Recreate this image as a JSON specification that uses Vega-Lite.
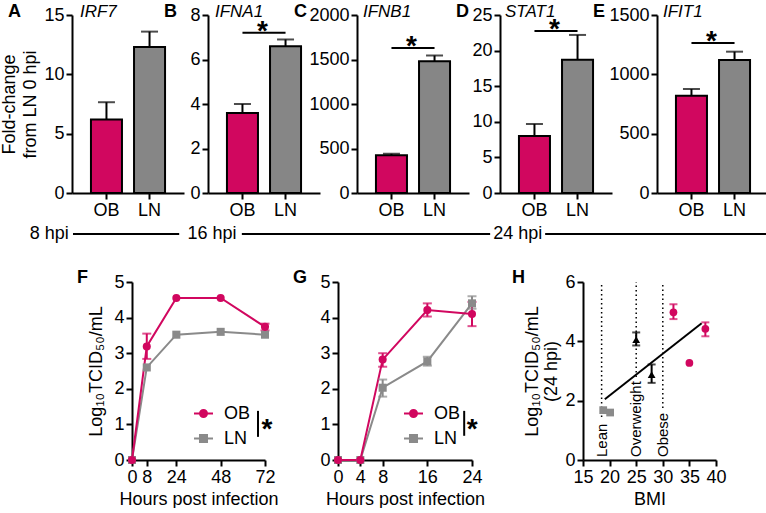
{
"$schema": "https://vega.github.io/schema/vega-lite/v6.json",
"background": "white",
"padding": {"left": 0, "top": 3, "right": 0, "bottom": 0},
"config": {
  "view": {"stroke": null},
  "font": "Liberation Sans",
  "axis": {"domainColor": "black", "domainWidth": 2, "tickColor": "black", "tickWidth": 2, "tickSize": 6, "labelColor": "black", "labelFontSize": 18, "labelFont": "Liberation Sans", "titleFont": "Liberation Sans", "titleFontSize": 18, "titleFontWeight": "normal", "titleColor": "black", "grid": false, "labelPadding": 2, "labelFlush": false, "labelOverlap": false},
  "text": {"font": "Liberation Sans", "color": "black"},
  "legend": {"labelFont": "Liberation Sans", "labelFontSize": 18, "labelColor": "black", "padding": 0}
},
"datasets": {
  "bars": [
    {"panel": "A", "gene": "IRF7", "group": "OB", "mean": 6.2, "upper": 7.65},
    {"panel": "A", "gene": "IRF7", "group": "LN", "mean": 12.3, "upper": 13.6},
    {"panel": "B", "gene": "IFNA1", "group": "OB", "mean": 3.6, "upper": 4.0},
    {"panel": "B", "gene": "IFNA1", "group": "LN", "mean": 6.6, "upper": 6.9},
    {"panel": "C", "gene": "IFNB1", "group": "OB", "mean": 425, "upper": 440},
    {"panel": "C", "gene": "IFNB1", "group": "LN", "mean": 1480, "upper": 1545},
    {"panel": "D", "gene": "STAT1", "group": "OB", "mean": 8.0, "upper": 9.7},
    {"panel": "D", "gene": "STAT1", "group": "LN", "mean": 18.7, "upper": 22.2},
    {"panel": "E", "gene": "IFIT1", "group": "OB", "mean": 820, "upper": 876},
    {"panel": "E", "gene": "IFIT1", "group": "LN", "mean": 1121, "upper": 1191}
  ],
  "sig": [
    {"panel": "B", "y": 7.2},
    {"panel": "C", "y": 1630},
    {"panel": "D", "y": 22.75},
    {"panel": "E", "y": 1265}
  ],
  "growth": [
    {"panel": "F", "group": "LN", "hours": 0, "titer": 0},
    {"panel": "F", "group": "LN", "hours": 8, "titer": 2.6},
    {"panel": "F", "group": "LN", "hours": 24, "titer": 3.52},
    {"panel": "F", "group": "LN", "hours": 48, "titer": 3.6},
    {"panel": "F", "group": "LN", "hours": 72, "titer": 3.52},
    {"panel": "F", "group": "OB", "hours": 0, "titer": 0},
    {"panel": "F", "group": "OB", "hours": 8, "titer": 3.19, "lo": 2.84, "hi": 3.55},
    {"panel": "F", "group": "OB", "hours": 24, "titer": 4.55},
    {"panel": "F", "group": "OB", "hours": 48, "titer": 4.55},
    {"panel": "F", "group": "OB", "hours": 72, "titer": 3.74, "lo": 3.64, "hi": 3.83},
    {"panel": "G", "group": "LN", "hours": 0, "titer": 0},
    {"panel": "G", "group": "LN", "hours": 4, "titer": 0},
    {"panel": "G", "group": "LN", "hours": 8, "titer": 2.03, "lo": 1.78, "hi": 2.26},
    {"panel": "G", "group": "LN", "hours": 16, "titer": 2.77, "lo": 2.65, "hi": 2.9},
    {"panel": "G", "group": "LN", "hours": 24, "titer": 4.4, "lo": 4.25, "hi": 4.6},
    {"panel": "G", "group": "OB", "hours": 0, "titer": 0},
    {"panel": "G", "group": "OB", "hours": 4, "titer": 0},
    {"panel": "G", "group": "OB", "hours": 8, "titer": 2.82, "lo": 2.62, "hi": 3.0},
    {"panel": "G", "group": "OB", "hours": 16, "titer": 4.21, "lo": 4.03, "hi": 4.4},
    {"panel": "G", "group": "OB", "hours": 24, "titer": 4.1, "lo": 3.76, "hi": 4.44}
  ],
  "tcsig": [
    {"panel": "F", "hours": 68.2, "lo": 0.65, "hi": 1.38, "mid": 1.0},
    {"panel": "G", "hours": 22.6, "lo": 0.68, "hi": 1.38, "mid": 1.02}
  ],
  "bmiCuts": [
    {"category": "Lean", "bmi": 18.5, "lineStart": 1.45},
    {"category": "Overweight", "bmi": 25, "lineStart": 2.8},
    {"category": "Obese", "bmi": 30, "lineStart": 1.75}
  ],
  "bmiPoints": [
    {"category": "Lean", "bmi": 18.8, "titer": 1.68},
    {"category": "Lean", "bmi": 20.1, "titer": 1.6},
    {"category": "Overweight", "bmi": 25, "titer": 4.06, "lo": 3.86, "hi": 4.3},
    {"category": "Overweight", "bmi": 27.9, "titer": 2.88, "lo": 2.6, "hi": 3.22},
    {"category": "Obese", "bmi": 32, "titer": 4.98, "lo": 4.75, "hi": 5.25},
    {"category": "Obese", "bmi": 35, "titer": 3.27},
    {"category": "Obese", "bmi": 38, "titer": 4.42, "lo": 4.17, "hi": 4.64}
  ],
  "bmiFit": [
    {"bmi": 19.1, "titer": 2.05},
    {"bmi": 37.3, "titer": 4.61}
  ],
  "timeline": [
    {"label": "8 hpi", "pos": 5.8, "from": 8.9, "to": 22.8},
    {"label": "16 hpi", "pos": 27.1, "from": 31.0, "to": 63.5},
    {"label": "24 hpi", "pos": 67.1, "from": 70.7, "to": 100}
  ]
},
"spacing": 0,
"resolve": {"scale": {"color": "independent", "shape": "independent"}, "legend": {"color": "independent", "shape": "independent"}},
"vconcat": [
  {
    "hconcat": [
      {"width": 67, "height": 178, "data": {"values": []}, "mark": "point"},
      {
        "width": 112, "height": 178,
        "data": {"name": "bars"},
        "transform": [{"filter": "datum.panel === 'A'"}],
        "layer": [
          {"mark": {"type": "bar", "stroke": "black", "strokeWidth": 2},
           "encoding": {
             "x": {"field": "group", "type": "nominal", "sort": ["OB", "LN"], "scale": {"paddingInner": 0.28, "paddingOuter": 0.44}, "axis": {"title": null, "labelAngle": 0}},
             "y": {"field": "mean", "type": "quantitative", "scale": {"domain": [0, 15], "nice": false}, "axis": {"values": [0, 5, 10, 15], "title": ["Fold-change", "from LN 0 hpi"], "titleLineHeight": 21, "titlePadding": 4, "labelOverlap": false}},
             "color": {"field": "group", "type": "nominal", "scale": {"domain": ["OB", "LN"], "range": ["#D1075F", "#868686"]}, "legend": null}}},
          {"mark": {"type": "rule", "strokeWidth": 2, "color": "black"},
           "encoding": {"x": {"field": "group", "type": "nominal", "sort": ["OB", "LN"]}, "y": {"field": "mean", "type": "quantitative", "axis": {"values": [0, 5, 10, 15], "title": ["Fold-change", "from LN 0 hpi"], "titleLineHeight": 21, "titlePadding": 4, "labelOverlap": false}}, "y2": {"field": "upper"}}},
          {"mark": {"type": "tick", "thickness": 2, "size": 17, "color": "black"},
           "encoding": {"x": {"field": "group", "type": "nominal", "sort": ["OB", "LN"]}, "y": {"field": "upper", "type": "quantitative", "axis": {"values": [0, 5, 10, 15], "title": ["Fold-change", "from LN 0 hpi"], "titleLineHeight": 21, "titlePadding": 4, "labelOverlap": false}}}},
          {"transform": [{"filter": "datum.group === 'OB'"}],
           "mark": {"type": "text", "align": "left", "baseline": "middle", "fontStyle": "italic", "fontSize": 17, "dx": -11, "dy": -3},
           "encoding": {"x": {"field": "group", "type": "nominal", "sort": ["OB", "LN"], "bandPosition": 0}, "y": {"datum": 15, "type": "quantitative", "axis": {"values": [0, 5, 10, 15], "title": ["Fold-change", "from LN 0 hpi"], "titleLineHeight": 21, "titlePadding": 4, "labelOverlap": false}}, "text": {"field": "gene"}}},
          {"transform": [{"filter": "datum.group === 'OB'"}],
           "mark": {"type": "text", "align": "left", "baseline": "middle", "fontWeight": "bold", "fontSize": 18, "dx": -83, "dy": -3},
           "encoding": {"x": {"field": "group", "type": "nominal", "sort": ["OB", "LN"], "bandPosition": 0}, "y": {"datum": 15, "type": "quantitative", "axis": {"values": [0, 5, 10, 15], "title": ["Fold-change", "from LN 0 hpi"], "titleLineHeight": 21, "titlePadding": 4, "labelOverlap": false}}, "text": {"field": "panel"}}}
        ]
      },
      {"width": 24, "height": 178, "data": {"values": []}, "mark": "point"},
      {
        "width": 112, "height": 178,
        "data": {"name": "bars"},
        "transform": [{"filter": "datum.panel === 'B'"}],
        "layer": [
          {"mark": {"type": "bar", "stroke": "black", "strokeWidth": 2},
           "encoding": {
             "x": {"field": "group", "type": "nominal", "sort": ["OB", "LN"], "scale": {"paddingInner": 0.28, "paddingOuter": 0.44}, "axis": {"title": null, "labelAngle": 0}},
             "y": {"field": "mean", "type": "quantitative", "scale": {"domain": [0, 8], "nice": false}, "axis": {"values": [0, 2, 4, 6, 8], "title": null, "labelOverlap": false}},
             "color": {"field": "group", "type": "nominal", "scale": {"domain": ["OB", "LN"], "range": ["#D1075F", "#868686"]}, "legend": null}}},
          {"mark": {"type": "rule", "strokeWidth": 2, "color": "black"},
           "encoding": {"x": {"field": "group", "type": "nominal", "sort": ["OB", "LN"]}, "y": {"field": "mean", "type": "quantitative", "axis": {"values": [0, 2, 4, 6, 8], "title": null, "labelOverlap": false}}, "y2": {"field": "upper"}}},
          {"mark": {"type": "tick", "thickness": 2, "size": 17, "color": "black"},
           "encoding": {"x": {"field": "group", "type": "nominal", "sort": ["OB", "LN"]}, "y": {"field": "upper", "type": "quantitative", "axis": {"values": [0, 2, 4, 6, 8], "title": null, "labelOverlap": false}}}},
          {"transform": [{"filter": "datum.group === 'OB'"}],
           "mark": {"type": "text", "align": "left", "baseline": "middle", "fontStyle": "italic", "fontSize": 17, "dx": -12, "dy": -3},
           "encoding": {"x": {"field": "group", "type": "nominal", "sort": ["OB", "LN"], "bandPosition": 0}, "y": {"datum": 8, "type": "quantitative", "axis": {"values": [0, 2, 4, 6, 8], "title": null, "labelOverlap": false}}, "text": {"field": "gene"}}},
          {"transform": [{"filter": "datum.group === 'OB'"}],
           "mark": {"type": "text", "align": "left", "baseline": "middle", "fontWeight": "bold", "fontSize": 18, "dx": -63, "dy": -3},
           "encoding": {"x": {"field": "group", "type": "nominal", "sort": ["OB", "LN"], "bandPosition": 0}, "y": {"datum": 8, "type": "quantitative", "axis": {"values": [0, 2, 4, 6, 8], "title": null, "labelOverlap": false}}, "text": {"field": "panel"}}},
          {"data": {"name": "sig"}, "transform": [{"filter": "datum.panel === 'B'"}],
           "mark": {"type": "rule", "strokeWidth": 2, "color": "black"},
           "encoding": {"x": {"datum": "OB"}, "x2": {"datum": "LN"}, "y": {"field": "y", "type": "quantitative", "axis": {"values": [0, 2, 4, 6, 8], "title": null, "labelOverlap": false}}}},
          {"data": {"name": "sig"}, "transform": [{"filter": "datum.panel === 'B'"}],
           "mark": {"type": "text", "text": "*", "fontSize": 28, "fontWeight": "bold", "align": "center", "baseline": "alphabetic", "dx": 20, "dy": 7},
           "encoding": {"x": {"datum": "OB"}, "y": {"field": "y", "type": "quantitative", "axis": {"values": [0, 2, 4, 6, 8], "title": null, "labelOverlap": false}}}}
        ]
      },
      {"width": 37, "height": 178, "data": {"values": []}, "mark": "point"},
      {
        "width": 112, "height": 178,
        "data": {"name": "bars"},
        "transform": [{"filter": "datum.panel === 'C'"}],
        "layer": [
          {"mark": {"type": "bar", "stroke": "black", "strokeWidth": 2},
           "encoding": {
             "x": {"field": "group", "type": "nominal", "sort": ["OB", "LN"], "scale": {"paddingInner": 0.28, "paddingOuter": 0.44}, "axis": {"title": null, "labelAngle": 0}},
             "y": {"field": "mean", "type": "quantitative", "scale": {"domain": [0, 2000], "nice": false}, "axis": {"values": [0, 500, 1000, 1500, 2000], "format": "d", "title": null, "labelOverlap": false}},
             "color": {"field": "group", "type": "nominal", "scale": {"domain": ["OB", "LN"], "range": ["#D1075F", "#868686"]}, "legend": null}}},
          {"mark": {"type": "rule", "strokeWidth": 2, "color": "black"},
           "encoding": {"x": {"field": "group", "type": "nominal", "sort": ["OB", "LN"]}, "y": {"field": "mean", "type": "quantitative", "axis": {"values": [0, 500, 1000, 1500, 2000], "format": "d", "title": null, "labelOverlap": false}}, "y2": {"field": "upper"}}},
          {"mark": {"type": "tick", "thickness": 2, "size": 17, "color": "black"},
           "encoding": {"x": {"field": "group", "type": "nominal", "sort": ["OB", "LN"]}, "y": {"field": "upper", "type": "quantitative", "axis": {"values": [0, 500, 1000, 1500, 2000], "format": "d", "title": null, "labelOverlap": false}}}},
          {"transform": [{"filter": "datum.group === 'OB'"}],
           "mark": {"type": "text", "align": "left", "baseline": "middle", "fontStyle": "italic", "fontSize": 17, "dx": -13, "dy": -3},
           "encoding": {"x": {"field": "group", "type": "nominal", "sort": ["OB", "LN"], "bandPosition": 0}, "y": {"datum": 2000, "type": "quantitative", "axis": {"values": [0, 500, 1000, 1500, 2000], "format": "d", "title": null, "labelOverlap": false}}, "text": {"field": "gene"}}},
          {"transform": [{"filter": "datum.group === 'OB'"}],
           "mark": {"type": "text", "align": "left", "baseline": "middle", "fontWeight": "bold", "fontSize": 18, "dx": -82, "dy": -3},
           "encoding": {"x": {"field": "group", "type": "nominal", "sort": ["OB", "LN"], "bandPosition": 0}, "y": {"datum": 2000, "type": "quantitative", "axis": {"values": [0, 500, 1000, 1500, 2000], "format": "d", "title": null, "labelOverlap": false}}, "text": {"field": "panel"}}},
          {"data": {"name": "sig"}, "transform": [{"filter": "datum.panel === 'C'"}],
           "mark": {"type": "rule", "strokeWidth": 2, "color": "black"},
           "encoding": {"x": {"datum": "OB"}, "x2": {"datum": "LN"}, "y": {"field": "y", "type": "quantitative", "axis": {"values": [0, 500, 1000, 1500, 2000], "format": "d", "title": null, "labelOverlap": false}}}},
          {"data": {"name": "sig"}, "transform": [{"filter": "datum.panel === 'C'"}],
           "mark": {"type": "text", "text": "*", "fontSize": 28, "fontWeight": "bold", "align": "center", "baseline": "alphabetic", "dx": 20, "dy": 7},
           "encoding": {"x": {"datum": "OB"}, "y": {"field": "y", "type": "quantitative", "axis": {"values": [0, 500, 1000, 1500, 2000], "format": "d", "title": null, "labelOverlap": false}}}}
        ]
      },
      {"width": 31, "height": 178, "data": {"values": []}, "mark": "point"},
      {
        "width": 112, "height": 178,
        "data": {"name": "bars"},
        "transform": [{"filter": "datum.panel === 'D'"}],
        "layer": [
          {"mark": {"type": "bar", "stroke": "black", "strokeWidth": 2},
           "encoding": {
             "x": {"field": "group", "type": "nominal", "sort": ["OB", "LN"], "scale": {"paddingInner": 0.28, "paddingOuter": 0.44}, "axis": {"title": null, "labelAngle": 0}},
             "y": {"field": "mean", "type": "quantitative", "scale": {"domain": [0, 25], "nice": false}, "axis": {"values": [0, 5, 10, 15, 20, 25], "title": null, "labelOverlap": false}},
             "color": {"field": "group", "type": "nominal", "scale": {"domain": ["OB", "LN"], "range": ["#D1075F", "#868686"]}, "legend": null}}},
          {"mark": {"type": "rule", "strokeWidth": 2, "color": "black"},
           "encoding": {"x": {"field": "group", "type": "nominal", "sort": ["OB", "LN"]}, "y": {"field": "mean", "type": "quantitative", "axis": {"values": [0, 5, 10, 15, 20, 25], "title": null, "labelOverlap": false}}, "y2": {"field": "upper"}}},
          {"mark": {"type": "tick", "thickness": 2, "size": 17, "color": "black"},
           "encoding": {"x": {"field": "group", "type": "nominal", "sort": ["OB", "LN"]}, "y": {"field": "upper", "type": "quantitative", "axis": {"values": [0, 5, 10, 15, 20, 25], "title": null, "labelOverlap": false}}}},
          {"transform": [{"filter": "datum.group === 'OB'"}],
           "mark": {"type": "text", "align": "left", "baseline": "middle", "fontStyle": "italic", "fontSize": 17, "dx": -14, "dy": -3},
           "encoding": {"x": {"field": "group", "type": "nominal", "sort": ["OB", "LN"], "bandPosition": 0}, "y": {"datum": 25, "type": "quantitative", "axis": {"values": [0, 5, 10, 15, 20, 25], "title": null, "labelOverlap": false}}, "text": {"field": "gene"}}},
          {"transform": [{"filter": "datum.group === 'OB'"}],
           "mark": {"type": "text", "align": "left", "baseline": "middle", "fontWeight": "bold", "fontSize": 18, "dx": -63, "dy": -3},
           "encoding": {"x": {"field": "group", "type": "nominal", "sort": ["OB", "LN"], "bandPosition": 0}, "y": {"datum": 25, "type": "quantitative", "axis": {"values": [0, 5, 10, 15, 20, 25], "title": null, "labelOverlap": false}}, "text": {"field": "panel"}}},
          {"data": {"name": "sig"}, "transform": [{"filter": "datum.panel === 'D'"}],
           "mark": {"type": "rule", "strokeWidth": 2, "color": "black"},
           "encoding": {"x": {"datum": "OB"}, "x2": {"datum": "LN"}, "y": {"field": "y", "type": "quantitative", "axis": {"values": [0, 5, 10, 15, 20, 25], "title": null, "labelOverlap": false}}}},
          {"data": {"name": "sig"}, "transform": [{"filter": "datum.panel === 'D'"}],
           "mark": {"type": "text", "text": "*", "fontSize": 28, "fontWeight": "bold", "align": "center", "baseline": "alphabetic", "dx": 20, "dy": 7},
           "encoding": {"x": {"datum": "OB"}, "y": {"field": "y", "type": "quantitative", "axis": {"values": [0, 5, 10, 15, 20, 25], "title": null, "labelOverlap": false}}}}
        ]
      },
      {"width": 45, "height": 178, "data": {"values": []}, "mark": "point"},
      {
        "width": 112, "height": 178,
        "data": {"name": "bars"},
        "transform": [{"filter": "datum.panel === 'E'"}],
        "layer": [
          {"mark": {"type": "bar", "stroke": "black", "strokeWidth": 2},
           "encoding": {
             "x": {"field": "group", "type": "nominal", "sort": ["OB", "LN"], "scale": {"paddingInner": 0.28, "paddingOuter": 0.44}, "axis": {"title": null, "labelAngle": 0}},
             "y": {"field": "mean", "type": "quantitative", "scale": {"domain": [0, 1500], "nice": false}, "axis": {"values": [0, 500, 1000, 1500], "format": "d", "title": null, "labelOverlap": false}},
             "color": {"field": "group", "type": "nominal", "scale": {"domain": ["OB", "LN"], "range": ["#D1075F", "#868686"]}, "legend": null}}},
          {"mark": {"type": "rule", "strokeWidth": 2, "color": "black"},
           "encoding": {"x": {"field": "group", "type": "nominal", "sort": ["OB", "LN"]}, "y": {"field": "mean", "type": "quantitative", "axis": {"values": [0, 500, 1000, 1500], "format": "d", "title": null, "labelOverlap": false}}, "y2": {"field": "upper"}}},
          {"mark": {"type": "tick", "thickness": 2, "size": 17, "color": "black"},
           "encoding": {"x": {"field": "group", "type": "nominal", "sort": ["OB", "LN"]}, "y": {"field": "upper", "type": "quantitative", "axis": {"values": [0, 500, 1000, 1500], "format": "d", "title": null, "labelOverlap": false}}}},
          {"transform": [{"filter": "datum.group === 'OB'"}],
           "mark": {"type": "text", "align": "left", "baseline": "middle", "fontStyle": "italic", "fontSize": 17, "dx": -13, "dy": -3},
           "encoding": {"x": {"field": "group", "type": "nominal", "sort": ["OB", "LN"], "bandPosition": 0}, "y": {"datum": 1500, "type": "quantitative", "axis": {"values": [0, 500, 1000, 1500], "format": "d", "title": null, "labelOverlap": false}}, "text": {"field": "gene"}}},
          {"transform": [{"filter": "datum.group === 'OB'"}],
           "mark": {"type": "text", "align": "left", "baseline": "middle", "fontWeight": "bold", "fontSize": 18, "dx": -83, "dy": -3},
           "encoding": {"x": {"field": "group", "type": "nominal", "sort": ["OB", "LN"], "bandPosition": 0}, "y": {"datum": 1500, "type": "quantitative", "axis": {"values": [0, 500, 1000, 1500], "format": "d", "title": null, "labelOverlap": false}}, "text": {"field": "panel"}}},
          {"data": {"name": "sig"}, "transform": [{"filter": "datum.panel === 'E'"}],
           "mark": {"type": "rule", "strokeWidth": 2, "color": "black"},
           "encoding": {"x": {"datum": "OB"}, "x2": {"datum": "LN"}, "y": {"field": "y", "type": "quantitative", "axis": {"values": [0, 500, 1000, 1500], "format": "d", "title": null, "labelOverlap": false}}}},
          {"data": {"name": "sig"}, "transform": [{"filter": "datum.panel === 'E'"}],
           "mark": {"type": "text", "text": "*", "fontSize": 28, "fontWeight": "bold", "align": "center", "baseline": "alphabetic", "dx": 20, "dy": 7},
           "encoding": {"x": {"datum": "OB"}, "y": {"field": "y", "type": "quantitative", "axis": {"values": [0, 500, 1000, 1500], "format": "d", "title": null, "labelOverlap": false}}}}
        ]
      }
    ],
    "spacing": 0,
    "bounds": "flush",
    "resolve": {"scale": {"color": "independent", "shape": "independent"}, "legend": {"color": "independent", "shape": "independent"}}
  },
  {
    "width": 764, "height": 30,
    "data": {"name": "timeline"},
    "layer": [
      {"mark": {"type": "rule", "strokeWidth": 2, "color": "black"},
       "encoding": {"x": {"field": "from", "type": "quantitative", "scale": {"domain": [0, 100], "nice": false}, "axis": null}, "x2": {"field": "to"}}},
      {"mark": {"type": "text", "fontSize": 18, "align": "center", "baseline": "middle"},
       "encoding": {"x": {"field": "pos", "type": "quantitative", "axis": null}, "text": {"field": "label"}}}
    ]
  },
  {"width": 10, "height": 20, "data": {"values": []}, "mark": "point"},
  {
    "hconcat": [
      {"width": 127, "height": 178, "data": {"values": []}, "mark": "point"},
      {
        "width": 133, "height": 178,
        "data": {"name": "growth"},
        "transform": [{"filter": "datum.panel === 'F'"}],
        "layer": [
          {"mark": {"type": "line", "strokeWidth": 2},
           "encoding": {
             "x": {"field": "hours", "type": "quantitative", "scale": {"domain": [0, 72], "nice": false}, "axis": {"values": [0, 8, 24, 48, 72], "title": "Hours post infection", "labelOverlap": false}},
             "y": {"field": "titer", "type": "quantitative", "scale": {"domain": [0, 5], "nice": false}, "axis": {"values": [0, 1, 2, 3, 4, 5], "title": "Log₁₀TCID₅₀/mL", "titlePadding": 8, "labelOverlap": false}},
             "color": {"field": "group", "type": "nominal", "scale": {"domain": ["OB", "LN"], "range": ["#D1075F", "#8A8A8A"]},
               "legend": {"orient": "none", "legendX": 61, "legendY": 121, "title": null, "symbolSize": 361, "rowPadding": 5, "labelOffset": 10,
               "encode": {"symbols": {"update": {
                 "shape": {"signal": "datum.value === 'OB' ? 'M-1,0H1M0.37,0A0.37,0.37,0,1,1,-0.37,0A0.37,0.37,0,1,1,0.37,0Z' : 'M-1,0H1M-0.37,-0.37H0.37V0.37H-0.37Z'"},
                 "stroke": {"signal": "datum.value === 'OB' ? '#D1075F' : '#8A8A8A'"},
                 "fill": {"signal": "datum.value === 'OB' ? '#D1075F' : '#8A8A8A'"},
                 "strokeWidth": {"value": 2}, "opacity": {"value": 1}}}}}}}},
          {"transform": [{"filter": "isValid(datum.lo)"}],
           "mark": {"type": "rule", "strokeWidth": 2},
           "encoding": {"x": {"field": "hours", "type": "quantitative", "axis": {"values": [0, 8, 24, 48, 72], "title": "Hours post infection", "labelOverlap": false}}, "y": {"field": "lo", "type": "quantitative", "axis": {"values": [0, 1, 2, 3, 4, 5], "title": "Log₁₀TCID₅₀/mL", "titlePadding": 8, "labelOverlap": false}}, "y2": {"field": "hi"}, "color": {"field": "group", "type": "nominal"}}},
          {"transform": [{"filter": "isValid(datum.lo)"}],
           "mark": {"type": "tick", "orient": "horizontal", "size": 9, "thickness": 2},
           "encoding": {"x": {"field": "hours", "type": "quantitative", "axis": {"values": [0, 8, 24, 48, 72], "title": "Hours post infection", "labelOverlap": false}}, "y": {"field": "lo", "type": "quantitative", "axis": {"values": [0, 1, 2, 3, 4, 5], "title": "Log₁₀TCID₅₀/mL", "titlePadding": 8, "labelOverlap": false}}, "color": {"field": "group", "type": "nominal"}}},
          {"transform": [{"filter": "isValid(datum.lo)"}],
           "mark": {"type": "tick", "orient": "horizontal", "size": 9, "thickness": 2},
           "encoding": {"x": {"field": "hours", "type": "quantitative", "axis": {"values": [0, 8, 24, 48, 72], "title": "Hours post infection", "labelOverlap": false}}, "y": {"field": "hi", "type": "quantitative", "axis": {"values": [0, 1, 2, 3, 4, 5], "title": "Log₁₀TCID₅₀/mL", "titlePadding": 8, "labelOverlap": false}}, "color": {"field": "group", "type": "nominal"}}},
          {"transform": [{"filter": "datum.group === 'LN'"}],
           "mark": {"type": "point", "shape": "square", "filled": true, "size": 65, "opacity": 1},
           "encoding": {
             "x": {"field": "hours", "type": "quantitative", "axis": {"values": [0, 8, 24, 48, 72], "title": "Hours post infection", "labelOverlap": false}},
             "y": {"field": "titer", "type": "quantitative", "axis": {"values": [0, 1, 2, 3, 4, 5], "title": "Log₁₀TCID₅₀/mL", "titlePadding": 8, "labelOverlap": false}},
             "color": {"field": "group", "type": "nominal"}}},
          {"transform": [{"filter": "datum.group === 'OB'"}],
           "mark": {"type": "point", "shape": "circle", "filled": true, "size": 65, "opacity": 1},
           "encoding": {
             "x": {"field": "hours", "type": "quantitative", "axis": {"values": [0, 8, 24, 48, 72], "title": "Hours post infection", "labelOverlap": false}},
             "y": {"field": "titer", "type": "quantitative", "axis": {"values": [0, 1, 2, 3, 4, 5], "title": "Log₁₀TCID₅₀/mL", "titlePadding": 8, "labelOverlap": false}},
             "color": {"field": "group", "type": "nominal"}}},
          {"data": {"name": "tcsig"}, "transform": [{"filter": "datum.panel === 'F'"}],
           "mark": {"type": "rule", "strokeWidth": 2, "color": "black"},
           "encoding": {"x": {"field": "hours", "type": "quantitative", "axis": {"values": [0, 8, 24, 48, 72], "title": "Hours post infection", "labelOverlap": false}}, "y": {"field": "lo", "type": "quantitative", "axis": {"values": [0, 1, 2, 3, 4, 5], "title": "Log₁₀TCID₅₀/mL", "titlePadding": 8, "labelOverlap": false}}, "y2": {"field": "hi"}}},
          {"data": {"name": "tcsig"}, "transform": [{"filter": "datum.panel === 'F'"}],
           "mark": {"type": "text", "text": "*", "fontSize": 28, "fontWeight": "bold", "align": "center", "baseline": "alphabetic", "dx": 9, "dy": 14},
           "encoding": {"x": {"field": "hours", "type": "quantitative", "axis": {"values": [0, 8, 24, 48, 72], "title": "Hours post infection", "labelOverlap": false}}, "y": {"field": "mid", "type": "quantitative", "axis": {"values": [0, 1, 2, 3, 4, 5], "title": "Log₁₀TCID₅₀/mL", "titlePadding": 8, "labelOverlap": false}}}},
          {"data": {"values": [{"letter": "F"}]},
           "mark": {"type": "text", "align": "left", "baseline": "middle", "fontWeight": "bold", "fontSize": 18, "dx": -55, "dy": -4},
           "encoding": {"x": {"datum": 0, "type": "quantitative", "axis": {"values": [0, 8, 24, 48, 72], "title": "Hours post infection", "labelOverlap": false}}, "y": {"datum": 5, "type": "quantitative", "axis": {"values": [0, 1, 2, 3, 4, 5], "title": "Log₁₀TCID₅₀/mL", "titlePadding": 8, "labelOverlap": false}}, "text": {"field": "letter"}}}
        ]
      },
      {"width": 73, "height": 178, "data": {"values": []}, "mark": "point"},
      {
        "width": 134, "height": 178,
        "data": {"name": "growth"},
        "transform": [{"filter": "datum.panel === 'G'"}],
        "layer": [
          {"mark": {"type": "line", "strokeWidth": 2},
           "encoding": {
             "x": {"field": "hours", "type": "quantitative", "scale": {"domain": [0, 24], "nice": false}, "axis": {"values": [0, 4, 8, 16, 24], "title": "Hours post infection", "labelOverlap": false}},
             "y": {"field": "titer", "type": "quantitative", "scale": {"domain": [0, 5], "nice": false}, "axis": {"values": [0, 1, 2, 3, 4, 5], "title": null, "labelOverlap": false}},
             "color": {"field": "group", "type": "nominal", "scale": {"domain": ["OB", "LN"], "range": ["#D1075F", "#8A8A8A"]},
               "legend": {"orient": "none", "legendX": 65, "legendY": 121, "title": null, "symbolSize": 361, "rowPadding": 5, "labelOffset": 10,
               "encode": {"symbols": {"update": {
                 "shape": {"signal": "datum.value === 'OB' ? 'M-1,0H1M0.37,0A0.37,0.37,0,1,1,-0.37,0A0.37,0.37,0,1,1,0.37,0Z' : 'M-1,0H1M-0.37,-0.37H0.37V0.37H-0.37Z'"},
                 "stroke": {"signal": "datum.value === 'OB' ? '#D1075F' : '#8A8A8A'"},
                 "fill": {"signal": "datum.value === 'OB' ? '#D1075F' : '#8A8A8A'"},
                 "strokeWidth": {"value": 2}, "opacity": {"value": 1}}}}}}}},
          {"transform": [{"filter": "isValid(datum.lo)"}],
           "mark": {"type": "rule", "strokeWidth": 2},
           "encoding": {"x": {"field": "hours", "type": "quantitative", "axis": {"values": [0, 4, 8, 16, 24], "title": "Hours post infection", "labelOverlap": false}}, "y": {"field": "lo", "type": "quantitative", "axis": {"values": [0, 1, 2, 3, 4, 5], "title": null, "labelOverlap": false}}, "y2": {"field": "hi"}, "color": {"field": "group", "type": "nominal"}}},
          {"transform": [{"filter": "isValid(datum.lo)"}],
           "mark": {"type": "tick", "orient": "horizontal", "size": 9, "thickness": 2},
           "encoding": {"x": {"field": "hours", "type": "quantitative", "axis": {"values": [0, 4, 8, 16, 24], "title": "Hours post infection", "labelOverlap": false}}, "y": {"field": "lo", "type": "quantitative", "axis": {"values": [0, 1, 2, 3, 4, 5], "title": null, "labelOverlap": false}}, "color": {"field": "group", "type": "nominal"}}},
          {"transform": [{"filter": "isValid(datum.lo)"}],
           "mark": {"type": "tick", "orient": "horizontal", "size": 9, "thickness": 2},
           "encoding": {"x": {"field": "hours", "type": "quantitative", "axis": {"values": [0, 4, 8, 16, 24], "title": "Hours post infection", "labelOverlap": false}}, "y": {"field": "hi", "type": "quantitative", "axis": {"values": [0, 1, 2, 3, 4, 5], "title": null, "labelOverlap": false}}, "color": {"field": "group", "type": "nominal"}}},
          {"transform": [{"filter": "datum.group === 'LN'"}],
           "mark": {"type": "point", "shape": "square", "filled": true, "size": 65, "opacity": 1},
           "encoding": {
             "x": {"field": "hours", "type": "quantitative", "axis": {"values": [0, 4, 8, 16, 24], "title": "Hours post infection", "labelOverlap": false}},
             "y": {"field": "titer", "type": "quantitative", "axis": {"values": [0, 1, 2, 3, 4, 5], "title": null, "labelOverlap": false}},
             "color": {"field": "group", "type": "nominal"}}},
          {"transform": [{"filter": "datum.group === 'OB'"}],
           "mark": {"type": "point", "shape": "circle", "filled": true, "size": 65, "opacity": 1},
           "encoding": {
             "x": {"field": "hours", "type": "quantitative", "axis": {"values": [0, 4, 8, 16, 24], "title": "Hours post infection", "labelOverlap": false}},
             "y": {"field": "titer", "type": "quantitative", "axis": {"values": [0, 1, 2, 3, 4, 5], "title": null, "labelOverlap": false}},
             "color": {"field": "group", "type": "nominal"}}},
          {"data": {"name": "tcsig"}, "transform": [{"filter": "datum.panel === 'G'"}],
           "mark": {"type": "rule", "strokeWidth": 2, "color": "black"},
           "encoding": {"x": {"field": "hours", "type": "quantitative", "axis": {"values": [0, 4, 8, 16, 24], "title": "Hours post infection", "labelOverlap": false}}, "y": {"field": "lo", "type": "quantitative", "axis": {"values": [0, 1, 2, 3, 4, 5], "title": null, "labelOverlap": false}}, "y2": {"field": "hi"}}},
          {"data": {"name": "tcsig"}, "transform": [{"filter": "datum.panel === 'G'"}],
           "mark": {"type": "text", "text": "*", "fontSize": 28, "fontWeight": "bold", "align": "center", "baseline": "alphabetic", "dx": 8, "dy": 14},
           "encoding": {"x": {"field": "hours", "type": "quantitative", "axis": {"values": [0, 4, 8, 16, 24], "title": "Hours post infection", "labelOverlap": false}}, "y": {"field": "mid", "type": "quantitative", "axis": {"values": [0, 1, 2, 3, 4, 5], "title": null, "labelOverlap": false}}}},
          {"data": {"values": [{"letter": "G"}]},
           "mark": {"type": "text", "align": "left", "baseline": "middle", "fontWeight": "bold", "fontSize": 18, "dx": -45, "dy": -4},
           "encoding": {"x": {"datum": 0, "type": "quantitative", "axis": {"values": [0, 4, 8, 16, 24], "title": "Hours post infection", "labelOverlap": false}}, "y": {"datum": 5, "type": "quantitative", "axis": {"values": [0, 1, 2, 3, 4, 5], "title": null, "labelOverlap": false}}, "text": {"field": "letter"}}}
        ]
      },
      {"width": 111, "height": 178, "data": {"values": []}, "mark": "point"},
      {
        "width": 133, "height": 178,
        "layer": [
          {"data": {"name": "bmiCuts"},
           "mark": {"type": "rule", "strokeDash": [1.5, 3], "strokeWidth": 1.5, "color": "black"},
           "encoding": {
             "x": {"field": "bmi", "type": "quantitative", "scale": {"domain": [15, 40], "nice": false}, "axis": {"values": [15, 20, 25, 30, 35, 40], "title": "BMI", "labelOverlap": false}},
             "y": {"field": "lineStart", "type": "quantitative", "scale": {"domain": [0, 6], "nice": false}, "axis": {"values": [0, 2, 4, 6], "title": ["Log₁₀TCID₅₀/mL", "(24 hpi)"], "titleLineHeight": 19, "titlePadding": 4, "labelOverlap": false}},
             "y2": {"datum": 6}}},
          {"data": {"name": "bmiCuts"},
           "mark": {"type": "text", "angle": 270, "align": "left", "baseline": "middle", "fontSize": 15, "dx": 3},
           "encoding": {"x": {"field": "bmi", "type": "quantitative", "axis": {"values": [15, 20, 25, 30, 35, 40], "title": "BMI", "labelOverlap": false}}, "y": {"datum": 0, "type": "quantitative", "axis": {"values": [0, 2, 4, 6], "title": ["Log₁₀TCID₅₀/mL", "(24 hpi)"], "titleLineHeight": 19, "titlePadding": 4, "labelOverlap": false}}, "text": {"field": "category"}}},
          {"data": {"name": "bmiFit"},
           "mark": {"type": "line", "color": "black", "strokeWidth": 2},
           "encoding": {"x": {"field": "bmi", "type": "quantitative", "axis": {"values": [15, 20, 25, 30, 35, 40], "title": "BMI", "labelOverlap": false}}, "y": {"field": "titer", "type": "quantitative", "axis": {"values": [0, 2, 4, 6], "title": ["Log₁₀TCID₅₀/mL", "(24 hpi)"], "titleLineHeight": 19, "titlePadding": 4, "labelOverlap": false}}}},
          {"data": {"name": "bmiPoints"}, "transform": [{"filter": "isValid(datum.lo)"}],
           "mark": {"type": "rule", "strokeWidth": 2},
           "encoding": {"x": {"field": "bmi", "type": "quantitative", "axis": {"values": [15, 20, 25, 30, 35, 40], "title": "BMI", "labelOverlap": false}}, "y": {"field": "lo", "type": "quantitative", "axis": {"values": [0, 2, 4, 6], "title": ["Log₁₀TCID₅₀/mL", "(24 hpi)"], "titleLineHeight": 19, "titlePadding": 4, "labelOverlap": false}}, "y2": {"field": "hi"}, "color": {"field": "category", "type": "nominal", "legend": null}}},
          {"data": {"name": "bmiPoints"}, "transform": [{"filter": "isValid(datum.lo)"}],
           "mark": {"type": "tick", "orient": "horizontal", "size": 8, "thickness": 2},
           "encoding": {"x": {"field": "bmi", "type": "quantitative", "axis": {"values": [15, 20, 25, 30, 35, 40], "title": "BMI", "labelOverlap": false}}, "y": {"field": "lo", "type": "quantitative", "axis": {"values": [0, 2, 4, 6], "title": ["Log₁₀TCID₅₀/mL", "(24 hpi)"], "titleLineHeight": 19, "titlePadding": 4, "labelOverlap": false}}, "color": {"field": "category", "type": "nominal", "legend": null}}},
          {"data": {"name": "bmiPoints"}, "transform": [{"filter": "isValid(datum.lo)"}],
           "mark": {"type": "tick", "orient": "horizontal", "size": 8, "thickness": 2},
           "encoding": {"x": {"field": "bmi", "type": "quantitative", "axis": {"values": [15, 20, 25, 30, 35, 40], "title": "BMI", "labelOverlap": false}}, "y": {"field": "hi", "type": "quantitative", "axis": {"values": [0, 2, 4, 6], "title": ["Log₁₀TCID₅₀/mL", "(24 hpi)"], "titleLineHeight": 19, "titlePadding": 4, "labelOverlap": false}}, "color": {"field": "category", "type": "nominal", "legend": null}}},
          {"data": {"name": "bmiPoints"},
           "mark": {"type": "point", "filled": true, "size": 60, "opacity": 1},
           "encoding": {
             "x": {"field": "bmi", "type": "quantitative", "axis": {"values": [15, 20, 25, 30, 35, 40], "title": "BMI", "labelOverlap": false}},
             "y": {"field": "titer", "type": "quantitative", "axis": {"values": [0, 2, 4, 6], "title": ["Log₁₀TCID₅₀/mL", "(24 hpi)"], "titleLineHeight": 19, "titlePadding": 4, "labelOverlap": false}},
             "color": {"field": "category", "type": "nominal", "scale": {"domain": ["Lean", "Overweight", "Obese"], "range": ["#8A8A8A", "black", "#D1075F"]}, "legend": null},
             "shape": {"field": "category", "type": "nominal", "scale": {"domain": ["Lean", "Overweight", "Obese"], "range": ["square", "triangle-up", "circle"]}, "legend": null}}},
          {"data": {"values": [{"letter": "H"}]},
           "mark": {"type": "text", "align": "left", "baseline": "middle", "fontWeight": "bold", "fontSize": 18, "dx": -71, "dy": -4},
           "encoding": {"x": {"datum": 15, "type": "quantitative", "axis": {"values": [15, 20, 25, 30, 35, 40], "title": "BMI", "labelOverlap": false}}, "y": {"datum": 6, "type": "quantitative", "axis": {"values": [0, 2, 4, 6], "title": ["Log₁₀TCID₅₀/mL", "(24 hpi)"], "titleLineHeight": 19, "titlePadding": 4, "labelOverlap": false}}, "text": {"field": "letter"}}}
        ]
      }
    ],
    "spacing": 0,
    "bounds": "flush",
    "resolve": {"scale": {"color": "independent", "shape": "independent"}, "legend": {"color": "independent", "shape": "independent"}}
  }
]
}
